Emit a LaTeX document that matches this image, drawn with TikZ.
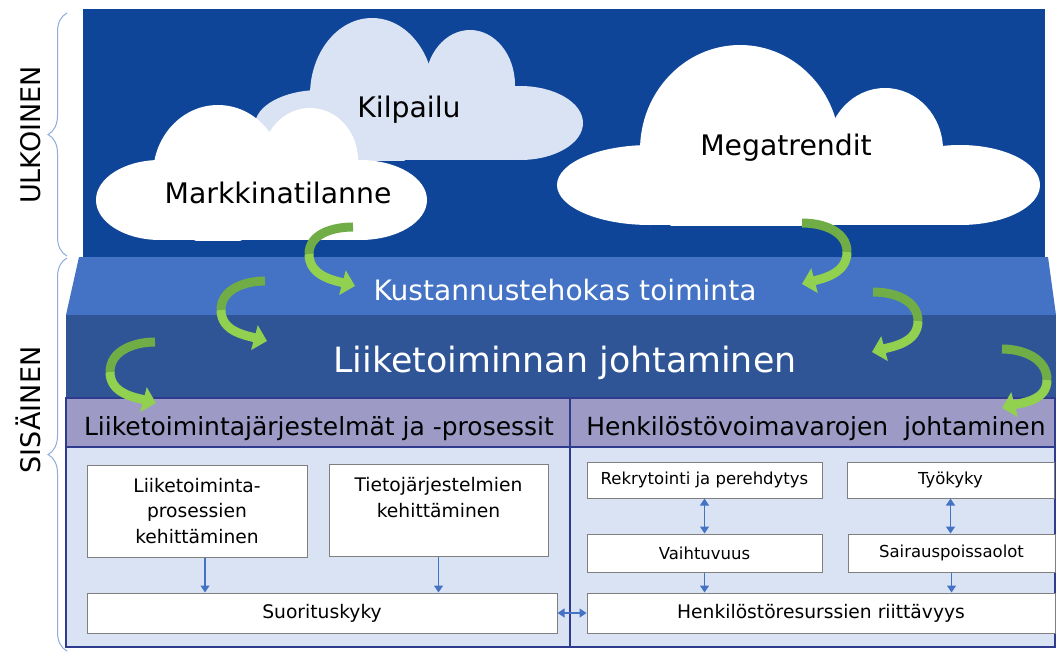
\documentclass[tikz,border=0pt]{standalone}
\usepackage{fontspec}
\setmainfont{DejaVu Sans}
\usetikzlibrary{arrows.meta,decorations.pathreplacing}
\definecolor{ylablue}{HTML}{0F4598}
\definecolor{kaistablue}{HTML}{4472C4}
\definecolor{johtoblue}{HTML}{2F5597}
\definecolor{otsikko}{HTML}{9D9BC5}
\definecolor{reuna}{HTML}{2E3B8E}
\definecolor{pohja}{HTML}{DAE3F3}
\definecolor{tummavihrea}{HTML}{70AD47}
\definecolor{vaaleavihrea}{HTML}{92D050}
\definecolor{sulku}{HTML}{8FAADC}
\definecolor{harmaa}{HTML}{7F7F7F}
\newcommand{\koko}[1]{\fontsize{#1}{1.3\dimexpr#1pt\relax}\selectfont}
\newcommand{\kaarivasen}[3]{%
\draw[kaari, tummavihrea] #1 to[out=180,in=90] #2;
\draw[kaari, vaaleavihrea, -{Triangle[length=13pt,width=25pt]}] #2 to[out=-90,in=165] #3;}
\newcommand{\kaarioikea}[3]{%
\draw[kaari, tummavihrea] #1 to[out=0,in=90] #2;
\draw[kaari, vaaleavihrea, -{Triangle[length=13pt,width=25pt]}] #2 to[out=-90,in=15] #3;}

\begin{document}
\begin{tikzpicture}[x=1pt,y=-1pt,
  laatikko/.style={draw=harmaa, fill=white, line width=1pt, align=center, inner sep=0pt},
  isoteksti/.style={font=\fontsize{18.7}{25.5}\selectfont},
  pieniteksti/.style={font=\fontsize{16.5}{20}\selectfont},
  nuoli/.style={draw=kaistablue, line width=1.2pt, -{Triangle[length=7pt,width=9pt]}},
  kaksinuoli/.style={nuoli, {Triangle[length=7pt,width=9pt]}-{Triangle[length=7pt,width=9pt]}},
  kaari/.style={line width=9pt},
  sulje/.style={draw=sulku, line width=1pt, decorate, decoration={brace, amplitude=19pt}}]
\useasboundingbox (0,0) rectangle (1056,651);

% ulkoinen
\fill[ylablue] (83,9) rectangle (1045,257);

\begin{scope}
\clip (250,10) rectangle (590,160);
\foreach \cx/\cy/\rx/\ry in {372/95/62/77, 470/85/45/55, 320/125/65/35, 520/123/63/37}
  \fill[pohja] (\cx,\cy) ellipse [x radius=\rx pt, y radius=\ry pt];
\fill[pohja] (320,100) rectangle (520,160);
\end{scope}
\begin{scope}
\clip (90,100) rectangle (430,240);
\foreach \cx/\cy/\rx/\ry in {218/175/65/70, 310/160/48/52, 160/200/64/40, 360/200/67/40}
  \fill[white] (\cx,\cy) ellipse [x radius=\rx pt, y radius=\ry pt];
\fill[white] (160,170) rectangle (360,240);
\end{scope}
\begin{scope}
\clip (550,40) rectangle (1045,225);
\foreach \cx/\cy/\rx/\ry in {740/150/100/105, 885/150/58/62, 650/185/93/40, 960/185/80/40}
  \fill[white] (\cx,\cy) ellipse [x radius=\rx pt, y radius=\ry pt];
\fill[white] (650,150) rectangle (960,225);
\end{scope}

\node[anchor=base, font=\koko{28.3}] (kilpailu) at (409,117) {Kilpailu};
\node[anchor=base, font=\koko{28.3}] (markkina) at (278,203) {Markkinatilanne};
\node[anchor=base, font=\koko{28.3}] (mega) at (786,155) {Megatrendit};

% sisainen
\fill[kaistablue] (79,257) -- (1048,257) -- (1056,315) -- (66,315) -- cycle;
\fill[johtoblue] (66,315) rectangle (1056,398);
\node[anchor=base, white, font=\koko{28.1}] (kustannus) at (565,300) {Kustannustehokas toiminta};
\node[anchor=base, white, font=\koko{34.8}] (johto) at (565,372) {Liiketoiminnan johtaminen};

\draw[reuna, fill=otsikko, line width=1.2pt] (66,398) rectangle (570,447);
\draw[reuna, fill=otsikko, line width=1.2pt] (570,398) rectangle (1055,447);
\draw[reuna, fill=pohja, line width=1.2pt] (66,447) rectangle (570,647);
\draw[reuna, fill=pohja, line width=1.2pt] (570,447) rectangle (1055,647);
\node[anchor=base, font=\koko{25}] (jarj) at (319,435) {Liiketoimintajärjestelmät ja -prosessit};
\node[anchor=base, font=\koko{25}] (henk) at (816,435) {Henkilöstövoimavarojen\ \ johtaminen};

% laatikot
\node[laatikko, isoteksti, minimum width=220pt, minimum height=92pt] (liike) at (197,511)
  {Liiketoiminta-\\prosessien\\kehittäminen};
\node[laatikko, isoteksti, minimum width=219pt, minimum height=92pt] (tieto) at (438.5,510)
  {Tietojärjestelmien\\kehittäminen\\\mbox{}};
\node[laatikko, isoteksti, minimum width=470pt, minimum height=40pt] (suor) at (322,613) {Suorituskyky};
\node[laatikko, pieniteksti, minimum width=235pt, minimum height=36pt] (rekry) at (704.5,480) {Rekrytointi ja perehdytys};
\node[laatikko, pieniteksti, minimum width=207pt, minimum height=36pt] (tyokyky) at (950.5,480) {Työkyky};
\node[laatikko, pieniteksti, minimum width=235pt, minimum height=38pt] (vaihtu) at (704.5,553) {Vaihtuvuus};
\node[laatikko, pieniteksti, minimum width=207pt, minimum height=38pt] (saira) at (951.5,553) {Sairauspoissaolot};
\node[laatikko, isoteksti, minimum width=468pt, minimum height=40pt] (riitt) at (821,613) {Henkilöstöresurssien riittävyys};

\draw[nuoli] ([xshift=8pt]liike.south) -- ([xshift=8pt]liike.south |- suor.north);
\draw[nuoli] (tieto.south) -- (tieto.south |- suor.north);
\draw[kaksinuoli] (rekry.south) -- (vaihtu.north);
\draw[kaksinuoli] (tyokyky.south) -- (tyokyky.south |- saira.north);
\draw[nuoli] (vaihtu.south) -- (vaihtu.south |- riitt.north);
\draw[nuoli] (saira.south) -- (saira.south |- riitt.north);
\draw[kaksinuoli] (suor.east) -- (riitt.west);

% vihreat kaaret
\kaarivasen{(353,227)}{(309,254)}{(355,286)}
\kaarivasen{(265,281)}{(221,310)}{(267,341)}
\kaarivasen{(155,342)}{(110,372)}{(156,403)}
\kaarioikea{(802,223)}{(847,252)}{(802,284)}
\kaarioikea{(873,292)}{(918,321)}{(872,352)}
\kaarioikea{(1002,349)}{(1047,380)}{(1002,408)}

% sulut
\draw[sulje] (67,256) -- (67,13);
\draw[sulje] (67,651) -- (67,258);
\node[anchor=base, rotate=90, font=\koko{27}] (ulko) at (40,135) {ULKOINEN};
\node[anchor=base, rotate=90, font=\koko{27}] (sisa) at (40,410) {SISÄINEN};

\end{tikzpicture}
\end{document}
